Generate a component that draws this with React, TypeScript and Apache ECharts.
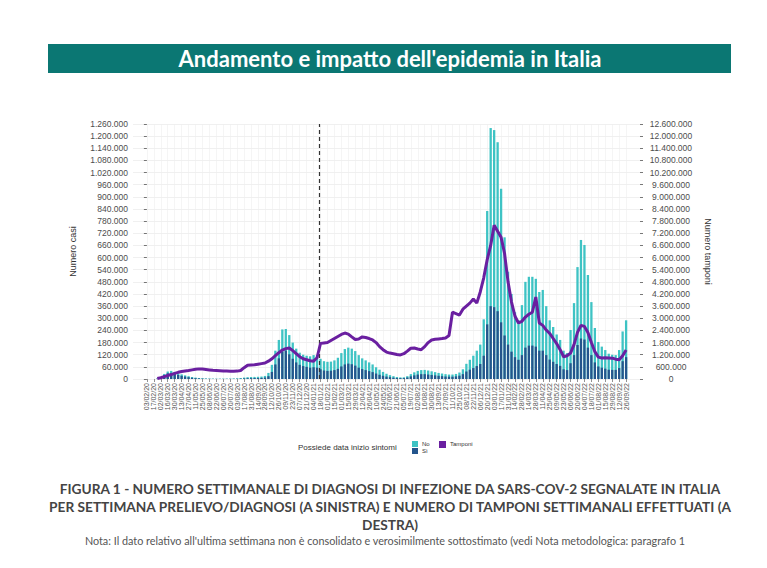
import React, { useEffect, useRef } from "react";
import * as echarts from "echarts";

// Weekly categories (Monday of each week)
const weeks: string[] = [
  "03/02/20","10/02/20","17/02/20","24/02/20","02/03/20","09/03/20","16/03/20","23/03/20","30/03/20","06/04/20",
  "13/04/20","20/04/20","27/04/20","04/05/20","11/05/20","18/05/20","25/05/20","01/06/20","08/06/20","15/06/20",
  "22/06/20","29/06/20","06/07/20","13/07/20","20/07/20","27/07/20","03/08/20","10/08/20","17/08/20","24/08/20",
  "31/08/20","07/09/20","14/09/20","21/09/20","28/09/20","05/10/20","12/10/20","19/10/20","26/10/20","02/11/20",
  "09/11/20","16/11/20","23/11/20","30/11/20","07/12/20","14/12/20","21/12/20","28/12/20",
  "04/01/21","11/01/21","18/01/21","25/01/21","01/02/21","08/02/21","15/02/21","22/02/21","01/03/21","08/03/21",
  "15/03/21","22/03/21","29/03/21","05/04/21","12/04/21","19/04/21","26/04/21","03/05/21","10/05/21","17/05/21",
  "24/05/21","31/05/21","07/06/21","14/06/21","21/06/21","28/06/21","05/07/21","12/07/21","19/07/21","26/07/21",
  "02/08/21","09/08/21","16/08/21","23/08/21","30/08/21","06/09/21","13/09/21","20/09/21","27/09/21","04/10/21",
  "11/10/21","18/10/21","25/10/21","01/11/21","08/11/21","15/11/21","22/11/21","29/11/21","06/12/21","13/12/21",
  "20/12/21","27/12/21",
  "03/01/22","10/01/22","17/01/22","24/01/22","31/01/22","07/02/22","14/02/22","21/02/22","28/02/22","07/03/22",
  "14/03/22","21/03/22","28/03/22","04/04/22","11/04/22","18/04/22","25/04/22","02/05/22","09/05/22","16/05/22",
  "23/05/22","30/05/22","06/06/22","13/06/22","20/06/22","27/06/22","04/07/22","11/07/22","18/07/22","25/07/22",
  "01/08/22","08/08/22","15/08/22","22/08/22","29/08/22","05/09/22","12/09/22","19/09/22","26/09/22",
];

// Weekly diagnoses with symptom onset date ("Sì")
const casiSi: (number | null)[] = [
  null, null, null,
  1500, 7500, 19000, 28000, 30000, 26000, 20000, 16000, 12000, 9000,
  6000, 4000, 2800, 1900, 1300, 1000, 800, 650, 600, 650,
  700, 750, 950, 1200, 1800, 2800, 3700, 4200, 4500, 4800,
  5400, 7000, 14000, 35000, 72000, 102000, 135000, 140000, 122000, 100000,
  82000, 70000, 64000, 60000, 56000, 58000, 56000, 48000, 42000, 40000,
  41000, 44000, 50000, 62000, 72000, 76000, 73000, 66000, 56000, 49000,
  44000, 39000, 34000, 27000, 21000, 16000, 12000, 9000, 6500, 4800,
  4000, 4300, 7500, 13000, 18000, 22000, 24000, 24000, 22000, 20000,
  18000, 16000, 14000, 12500, 11500, 11500, 13000, 16500, 24000, 37000,
  46000, 54000, 64000, 74000, 115000, 270000, 360000, 355000, 335000, 280000,
  215000, 170000, 135000, 108000, 95000, 118000, 155000, 165000, 165000, 160000,
  140000, 140000, 118000, 96000, 85000, 74000, 65000, 48000, 44000, 78000,
  118000, 168000, 200000, 195000, 155000, 118000, 82000, 62000, 56000, 51000,
  46000, 45000, 45000, 54000, 88000, 108000,
];

// Weekly diagnoses without symptom onset date ("No")
const casiNo: (number | null)[] = [
  null, null, null,
  500, 2500, 6000, 9000, 10000, 9000, 8000, 7000, 6000, 5000,
  4000, 3000, 2200, 1600, 1200, 1000, 800, 750, 800, 850,
  1000, 1050, 1350, 1800, 2700, 4200, 5300, 5800, 6000, 6200,
  6600, 8000, 16000, 35000, 68000, 91000, 110000, 107000, 95000, 80000,
  68000, 60000, 56000, 55000, 56000, 60000, 62000, 52000, 46000, 45000,
  45000, 48000, 55000, 66000, 76000, 79000, 77000, 72000, 62000, 53000,
  48000, 43000, 38000, 31000, 25000, 19000, 14000, 10000, 7500, 5200,
  4000, 4200, 6500, 11000, 15000, 18000, 20000, 21000, 20000, 18000,
  16000, 14000, 13000, 11500, 10500, 10500, 12000, 15500, 24000, 38000,
  49000, 61000, 76000, 96000, 180000, 560000, 880000, 875000, 835000, 660000,
  485000, 360000, 285000, 222000, 195000, 247000, 325000, 340000, 340000, 335000,
  290000, 300000, 242000, 194000, 172000, 146000, 128000, 92000, 84000, 164000,
  257000, 385000, 487000, 467000, 359000, 262000, 170000, 121000, 104000, 92000,
  79000, 75000, 73000, 89000, 147000, 182000,
];

// Weekly swabs (right axis)
const tamponi: (number | null)[] = [
  null, null, null,
  25000, 60000, 120000, 170000, 220000, 280000, 330000, 370000, 400000, 420000,
  450000, 480000, 500000, 490000, 470000, 450000, 430000, 420000, 410000, 400000,
  390000, 380000, 380000, 390000, 420000, 560000, 680000, 690000, 700000, 730000,
  760000, 790000, 880000, 1000000, 1150000, 1300000, 1430000, 1500000, 1530000, 1400000,
  1250000, 1100000, 1000000, 950000, 900000, 880000, 1050000, 1760000, 1780000, 1800000,
  1900000, 2000000, 2100000, 2200000, 2270000, 2220000, 2080000, 1950000, 1980000, 2080000,
  2050000, 2000000, 1930000, 1800000, 1600000, 1450000, 1330000, 1280000, 1250000, 1210000,
  1190000, 1250000, 1380000, 1520000, 1530000, 1480000, 1450000, 1600000, 1800000, 1930000,
  1960000, 1980000, 2000000, 2030000, 2150000, 3300000, 3230000, 3160000, 3450000, 3600000,
  3750000, 3950000, 3750000, 4300000, 5000000, 5900000, 6600000, 7600000, 7300000, 7000000,
  6200000, 4800000, 3800000, 3100000, 2770000, 2850000, 3060000, 3200000, 3300000, 4050000,
  2770000, 2650000, 2420000, 2250000, 2000000, 1750000, 1450000, 1100000, 1150000, 1280000,
  1700000, 2300000, 2650000, 2600000, 2300000, 1800000, 1350000, 1080000, 1040000, 1050000,
  1040000, 1030000, 980000, 950000, 1150000, 1430000,
];

// Week of 15/01/2021 (antigen tests included) — dashed marker between two weeks
const markerWeek = 49.5;

const fmt = (v: number) => String(v).replace(/\B(?=(\d{3})+(?!\d))/g, ".");

const SANS = "Liberation Sans, Arial, sans-serif";
const HEAD = "Lato, 'Open Sans', sans-serif";

const TEAL = "#3ec3c4";
const NAVY = "#24558c";
const PURPLE = "#6a1fa0";

export default function App() {
  const ref = useRef<HTMLDivElement>(null);

  useEffect(() => {
    if (!ref.current) return;
    const chart = echarts.init(ref.current, undefined, { renderer: "svg" });
    const tickIdx = weeks.map((_, i) => i).filter((i) => i % 2 === 0);
    // stacked bars drawn as overlay: the "No" segment sits on top of the "Sì" one
    const stackTop = casiSi.map((v, i) => (v == null || casiNo[i] == null ? null : v + (casiNo[i] as number)));
    const toXY = (arr: (number | null)[]) => arr.map((v, i) => [i, v]);

    const option: any = {
      animation: false,
      backgroundColor: "#ffffff",
      grid: { left: 133, right: 127, top: 124, height: 255 },
      xAxis: {
        type: "value",
        min: -4,
        max: 142,
        interval: 2,
        axisLine: { show: false },
        axisTick: { show: true, customValues: tickIdx, length: 3, lineStyle: { color: "#777", width: 0.8 } },
        axisLabel: {
          customValues: tickIdx,
          rotate: 90,
          fontSize: 7,
          color: "#555",
          fontFamily: SANS,
          margin: 4,
          formatter: (v: number) => weeks[v] ?? "",
        },
        splitLine: { show: true, lineStyle: { color: "#efefef", width: 0.6 } },
      },
      yAxis: [
        {
          type: "value",
          min: 0,
          max: 1260000,
          interval: 60000,
          name: "Numero casi",
          nameLocation: "middle",
          nameGap: 56,
          nameRotate: 90,
          nameTextStyle: { fontSize: 9, color: "#333", fontFamily: SANS },
          axisLine: { show: false },
          axisTick: { show: true, length: 3, lineStyle: { color: "#555", width: 0.8 } },
          axisLabel: { formatter: fmt, fontSize: 8.5, color: "#4d4d4d", fontFamily: SANS, margin: 5 },
          splitLine: { show: true, lineStyle: { color: "#e9e9e9", width: 0.7 } },
        },
        {
          type: "value",
          min: 0,
          max: 12600000,
          interval: 600000,
          position: "right",
          name: "Numero tamponi",
          nameLocation: "middle",
          nameGap: 63,
          nameRotate: -90,
          nameTextStyle: { fontSize: 9, color: "#333", fontFamily: SANS },
          axisLine: { show: false },
          axisTick: { show: true, length: 3, lineStyle: { color: "#555", width: 0.8 } },
          axisLabel: { formatter: fmt, fontSize: 8.5, color: "#4d4d4d", fontFamily: SANS, margin: 31, align: "center" },
          splitLine: { show: false },
        },
      ],
      series: [
        {
          name: "No",
          type: "bar",
          barWidth: 2.3,
          barGap: "-100%",
          itemStyle: { color: TEAL },
          data: toXY(stackTop),
          z: 2,
          markLine: {
            silent: true,
            symbol: "none",
            label: { show: false },
            lineStyle: { color: "#333", type: [4, 3], width: 1.2 },
            data: [{ xAxis: markerWeek }],
          },
        },
        {
          name: "Sì",
          type: "bar",
          barWidth: 2.3,
          barGap: "-100%",
          itemStyle: { color: NAVY },
          data: toXY(casiSi),
          z: 3,
        },
        {
          name: "Tamponi",
          type: "line",
          yAxisIndex: 1,
          showSymbol: false,
          symbol: "none",
          lineStyle: { color: PURPLE, width: 3 },
          itemStyle: { color: PURPLE },
          data: toXY(tamponi),
          z: 5,
        },
      ],
      graphic: [
        { type: "rect", shape: { x: 48, y: 44, width: 683, height: 29 }, style: { fill: "#0b7773" } },
        {
          type: "text",
          x: 390,
          y: 58,
          style: {
            text: "Andamento e impatto dell'epidemia in Italia",
            fill: "#ffffff",
            fontSize: 22,
            fontWeight: "bold",
            fontFamily: HEAD,
            align: "center",
            verticalAlign: "middle",
          },
        },
        // legend
        {
          type: "text",
          x: 298,
          y: 447,
          style: { text: "Possiede data inizio sintomi", fill: "#333", fontSize: 8, fontFamily: SANS, align: "left", verticalAlign: "middle" },
        },
        { type: "rect", shape: { x: 412, y: 441, width: 6, height: 6 }, style: { fill: TEAL } },
        { type: "rect", shape: { x: 412, y: 448, width: 6, height: 6 }, style: { fill: NAVY } },
        { type: "text", x: 422, y: 444, style: { text: "No", fill: "#333", fontSize: 6, fontFamily: SANS, verticalAlign: "middle" } },
        { type: "text", x: 422, y: 451, style: { text: "Sì", fill: "#333", fontSize: 6, fontFamily: SANS, verticalAlign: "middle" } },
        { type: "rect", shape: { x: 439, y: 441, width: 7, height: 7 }, style: { fill: PURPLE } },
        { type: "text", x: 450, y: 444, style: { text: "Tamponi", fill: "#333", fontSize: 6, fontFamily: SANS, verticalAlign: "middle" } },
        // caption
        {
          type: "text",
          x: 390,
          y: 488,
          style: {
            text: "FIGURA 1 - NUMERO SETTIMANALE DI DIAGNOSI DI INFEZIONE DA SARS-COV-2 SEGNALATE IN ITALIA",
            fill: "#444",
            fontSize: 13.7,
            fontWeight: "bold",
            fontFamily: HEAD,
            align: "center",
            verticalAlign: "middle",
          },
        },
        {
          type: "text",
          x: 390,
          y: 506,
          style: {
            text: "PER SETTIMANA PRELIEVO/DIAGNOSI (A SINISTRA) E NUMERO DI TAMPONI SETTIMANALI EFFETTUATI (A",
            fill: "#444",
            fontSize: 13.7,
            fontWeight: "bold",
            fontFamily: HEAD,
            align: "center",
            verticalAlign: "middle",
          },
        },
        {
          type: "text",
          x: 390,
          y: 524,
          style: { text: "DESTRA)", fill: "#444", fontSize: 13.7, fontWeight: "bold", fontFamily: HEAD, align: "center", verticalAlign: "middle" },
        },
        {
          type: "text",
          x: 385,
          y: 540,
          style: {
            text: "Nota: Il dato relativo all'ultima settimana non è consolidato e verosimilmente sottostimato (vedi Nota metodologica: paragrafo 1",
            fill: "#555",
            fontSize: 10.8,
            fontFamily: HEAD,
            align: "center",
            verticalAlign: "middle",
          },
        },
      ],
    };

    chart.setOption(option);
    return () => chart.dispose();
  }, []);

  return <div ref={ref} style={{ position: "absolute", left: 0, top: 0, width: 767, height: 568 }} />;
}
